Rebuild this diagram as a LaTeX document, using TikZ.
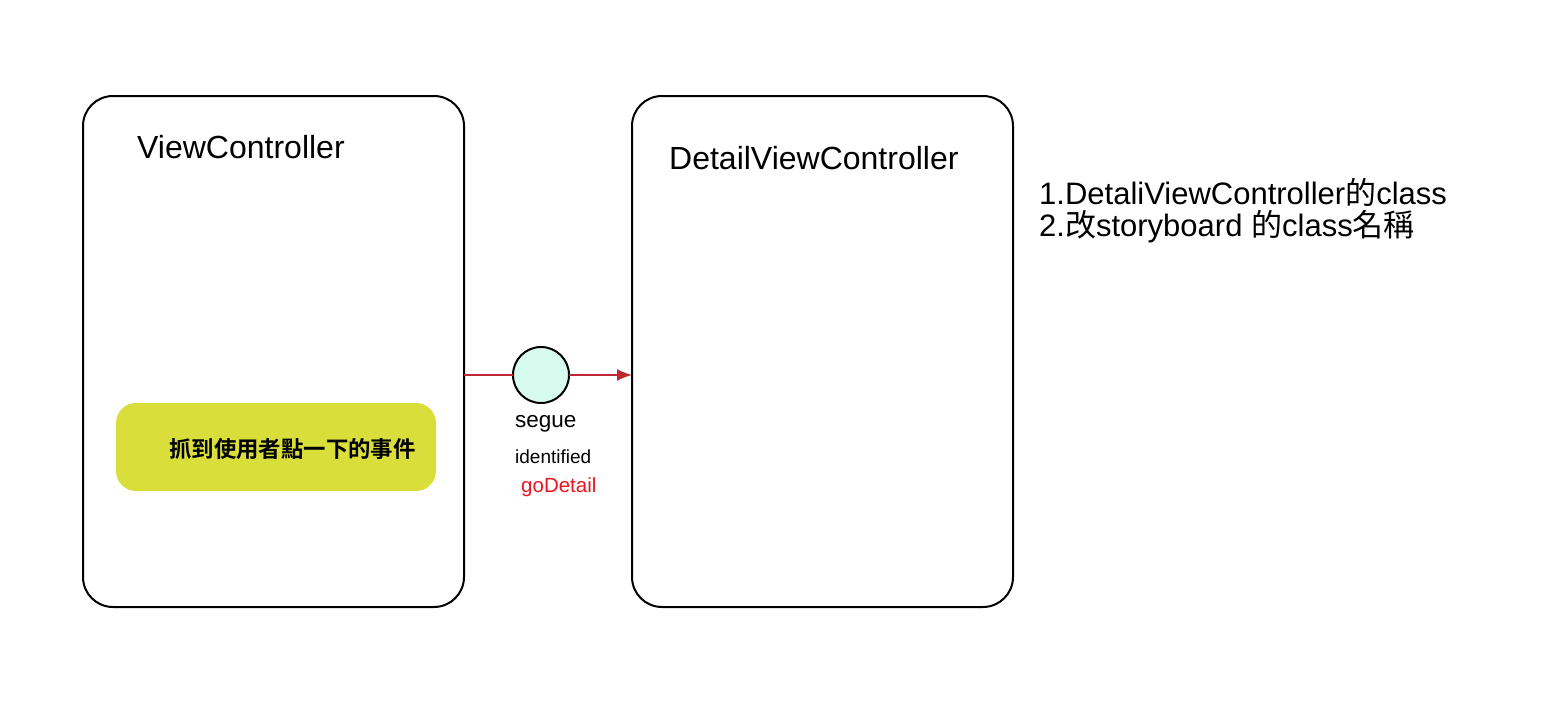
\documentclass[tikz,border=0pt]{standalone}
\usepackage{fontspec}
\setmainfont{Liberation Sans}
\newfontfamily\cjk{Noto Sans CJK TC}
\newfontfamily\cjkb{Noto Sans CJK TC Bold}
\usetikzlibrary{arrows.meta}
\definecolor{segred}{RGB}{190,40,50}
\definecolor{mint}{RGB}{216,251,239}
\definecolor{olive}{RGB}{217,222,58}
\definecolor{labred}{RGB}{235,20,30}
\tikzset{
  screen/.style={draw=black, line width=2pt, rounded corners=30pt, minimum width=381pt, minimum height=511pt, inner sep=0pt, outer sep=0pt},
  eventbox/.style={fill=olive, rounded corners=20pt, minimum width=320pt, minimum height=88pt, inner sep=0pt},
  seguedot/.style={circle, draw=black, line width=2pt, fill=mint, minimum size=56pt, inner sep=0pt, outer sep=0pt},
  link/.style={draw=segred, line width=1.6pt},
  title/.style={font=\fontsize{32}{38}\selectfont, inner sep=0pt, anchor=west},
  label/.style={inner sep=0pt, anchor=west},
}
\begin{document}
\begin{tikzpicture}[x=1pt, y=-1pt]
  \useasboundingbox (0,0) rectangle (1542,717);

  % the two view controllers
  \node[screen] (vc) at (273.5,351.5) {};
  \node[screen] (dvc) at (822.5,351.5) {};
  \node[title] (vct) at (137,147) {ViewController};
  \node[title] (dvct) at (669,158) {DetailViewController};

  % tap handler inside the first controller
  \node[eventbox] (ev) at (276,447) {};
  \node[label, font=\fontsize{22.4}{26}\selectfont\cjkb] (evt) at (169,449) {抓到使用者點一下的事件};

  % segue between the controllers
  \node[seguedot] (seg) at (541,375) {};
  \draw[link] (seg.west) -- (seg.west -| vc.east);
  \draw[link, -{Latex[length=15pt, width=12pt]}] (seg.east) -- (seg.east -| dvc.west);

  \node[label, font=\fontsize{22.5}{26}\selectfont] (sl) at (515,424) {segue};
  \node[label, font=\fontsize{19}{22}\selectfont] (il) at (515,457) {identified};
  \node[label, font=\fontsize{20.5}{24}\selectfont, text=labred] (gl) at (521,487) {goDetail};

  % notes
  \node[label, align=left, font=\fontsize{31}{32}\selectfont] (notes) at (1039,211)
    {1.DetaliViewController{\cjk 的}class\\2.{\cjk 改}storyboard {\cjk 的}class{\cjk 名稱}};
\end{tikzpicture}
\end{document}
